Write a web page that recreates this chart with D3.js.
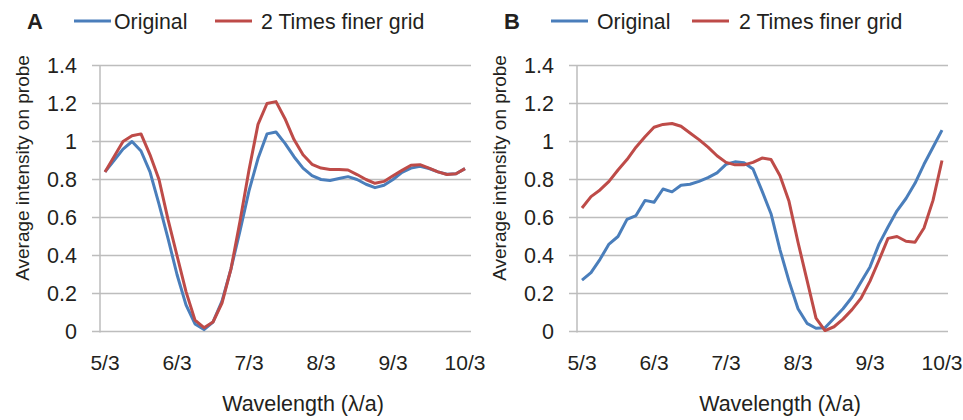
<!DOCTYPE html>
<html>
<head>
<meta charset="utf-8">
<script src="https://cdn.jsdelivr.net/npm/d3@7"></script>
<style>
  body { margin: 0; background: #fff; }
  svg { display: block; font-family: "Liberation Sans", Arial, sans-serif; }
  text { fill: #231f20; }
</style>
</head>
<body>
<svg id="chart" width="963" height="420"></svg>
<script>
// x is a category axis: 41 samples, labelled every 8th sample
var tickLabels = ["5/3", "6/3", "7/3", "8/3", "9/3", "10/3"];
var yTicks = [0, 0.2, 0.4, 0.6, 0.8, 1, 1.2, 1.4];
var seriesNames = ["Original", "2 Times finer grid"];

var originalA = [0.84, 0.90, 0.96, 1.00, 0.95, 0.84, 0.67, 0.49, 0.30, 0.14,
  0.04, 0.01, 0.05, 0.16, 0.33, 0.53, 0.74, 0.91, 1.04, 1.05,
  0.99, 0.92, 0.86, 0.82, 0.80, 0.795, 0.805, 0.815, 0.80, 0.775,
  0.757, 0.77, 0.80, 0.838, 0.86, 0.87, 0.858, 0.84, 0.828, 0.83, 0.857];
var finerA = [0.84, 0.92, 1.00, 1.03, 1.04, 0.93, 0.80, 0.59, 0.40, 0.21,
  0.06, 0.02, 0.05, 0.15, 0.33, 0.58, 0.85, 1.09, 1.20, 1.21,
  1.12, 1.01, 0.93, 0.88, 0.86, 0.853, 0.852, 0.85, 0.826, 0.80,
  0.78, 0.79, 0.82, 0.848, 0.875, 0.878, 0.86, 0.84, 0.826, 0.83, 0.857];
var originalB = [0.27, 0.31, 0.38, 0.46, 0.50, 0.59, 0.61, 0.69, 0.68, 0.75,
  0.735, 0.77, 0.775, 0.79, 0.81, 0.835, 0.88, 0.893, 0.888, 0.855,
  0.74, 0.62, 0.43, 0.265, 0.12, 0.043, 0.017, 0.02, 0.07, 0.12,
  0.18, 0.26, 0.34, 0.46, 0.55, 0.635, 0.70, 0.78, 0.88, 0.97, 1.06];
var finerB = [0.65, 0.71, 0.745, 0.79, 0.85, 0.905, 0.97, 1.025, 1.075, 1.09,
  1.095, 1.08, 1.045, 1.01, 0.97, 0.925, 0.89, 0.877, 0.877, 0.89,
  0.913, 0.905, 0.82, 0.685, 0.47, 0.27, 0.07, 0.005, 0.025, 0.065,
  0.115, 0.175, 0.265, 0.375, 0.49, 0.50, 0.475, 0.47, 0.545, 0.69, 0.90];

var colors = ["#4a7ebb", "#be4b48"];
var svg = d3.select("#chart");

function drawPanel(left, letter, original, finer, legendText) {
  var g = svg.append("g");
  var x = d3.scaleLinear().domain([0, original.length - 1]).range([left + 5, left + 365]);
  var y = d3.scaleLinear().domain([0, 1.4]).range([331.5, 65.5]);

  // gridlines + tick stubs
  g.selectAll("line.grid")
    .data(yTicks)
    .enter()
    .append("line")
    .classed("grid", true)
    .attr("x1", left - 8)
    .attr("x2", left + 371)
    .attr("y1", function (d) { return y(d); })
    .attr("y2", function (d) { return y(d); })
    .style("stroke", "#bdbdbd")
    .style("stroke-width", 1.5);

  g.append("line")
    .attr("x1", left).attr("x2", left)
    .attr("y1", y(1.4)).attr("y2", y(0) + 1)
    .style("stroke", "#bdbdbd")
    .style("stroke-width", 1.5);

  // y tick labels
  g.selectAll("text.ytick")
    .data(yTicks)
    .enter()
    .append("text")
    .classed("ytick", true)
    .attr("x", left - 23)
    .attr("y", function (d) { return y(d); })
    .attr("dy", "0.35em")
    .attr("text-anchor", "end")
    .style("font-size", "21.5px")
    .text(function (d) { return d3.format("~g")(d); });

  // x tick labels, every 8th category
  g.selectAll("text.xtick")
    .data(tickLabels)
    .enter()
    .append("text")
    .classed("xtick", true)
    .attr("x", function (d, i) { return x(i * 8); })
    .attr("y", 370)
    .attr("text-anchor", "middle")
    .style("font-size", "21px")
    .text(function (d) { return d; });

  // axis titles
  g.append("text")
    .attr("transform", "translate(" + (left - 71) + "," + 168 + ") rotate(-90)")
    .attr("text-anchor", "middle")
    .style("font-size", "19px")
    .text("Average intensity on probe");

  g.append("text")
    .attr("x", left + 203)
    .attr("y", 411)
    .attr("text-anchor", "middle")
    .style("font-size", "21.5px")
    .text("Wavelength (\u03bb/a)");

  // lines
  var line = d3.line()
    .x(function (d, i) { return x(i); })
    .y(function (d) { return y(d); });

  [original, finer].forEach(function (s, k) {
    g.append("path")
      .datum(s)
      .attr("d", line)
      .style("fill", "none")
      .style("stroke", colors[k])
      .style("stroke-width", 3)
      .style("stroke-linejoin", "round");
  });

  // panel letter + legend
  g.append("text")
    .attr("x", left - 73)
    .attr("y", 29)
    .style("font-size", "22px")
    .style("font-weight", "bold")
    .text(letter);

  var legendX = [left - 26, left + 115];
  seriesNames.forEach(function (name, k) {
    g.append("line")
      .attr("x1", legendX[k]).attr("x2", legendX[k] + 37)
      .attr("y1", 21).attr("y2", 21)
      .style("stroke", colors[k])
      .style("stroke-width", 3);
    g.append("text")
      .attr("x", left + legendText[k])
      .attr("y", 29)
      .style("font-size", "21.3px")
      .text(name);
  });
}

drawPanel(100, "A", originalA, finerA, [14, 161]);
drawPanel(577, "B", originalB, finerB, [20, 162]);
</script>
</body>
</html>
